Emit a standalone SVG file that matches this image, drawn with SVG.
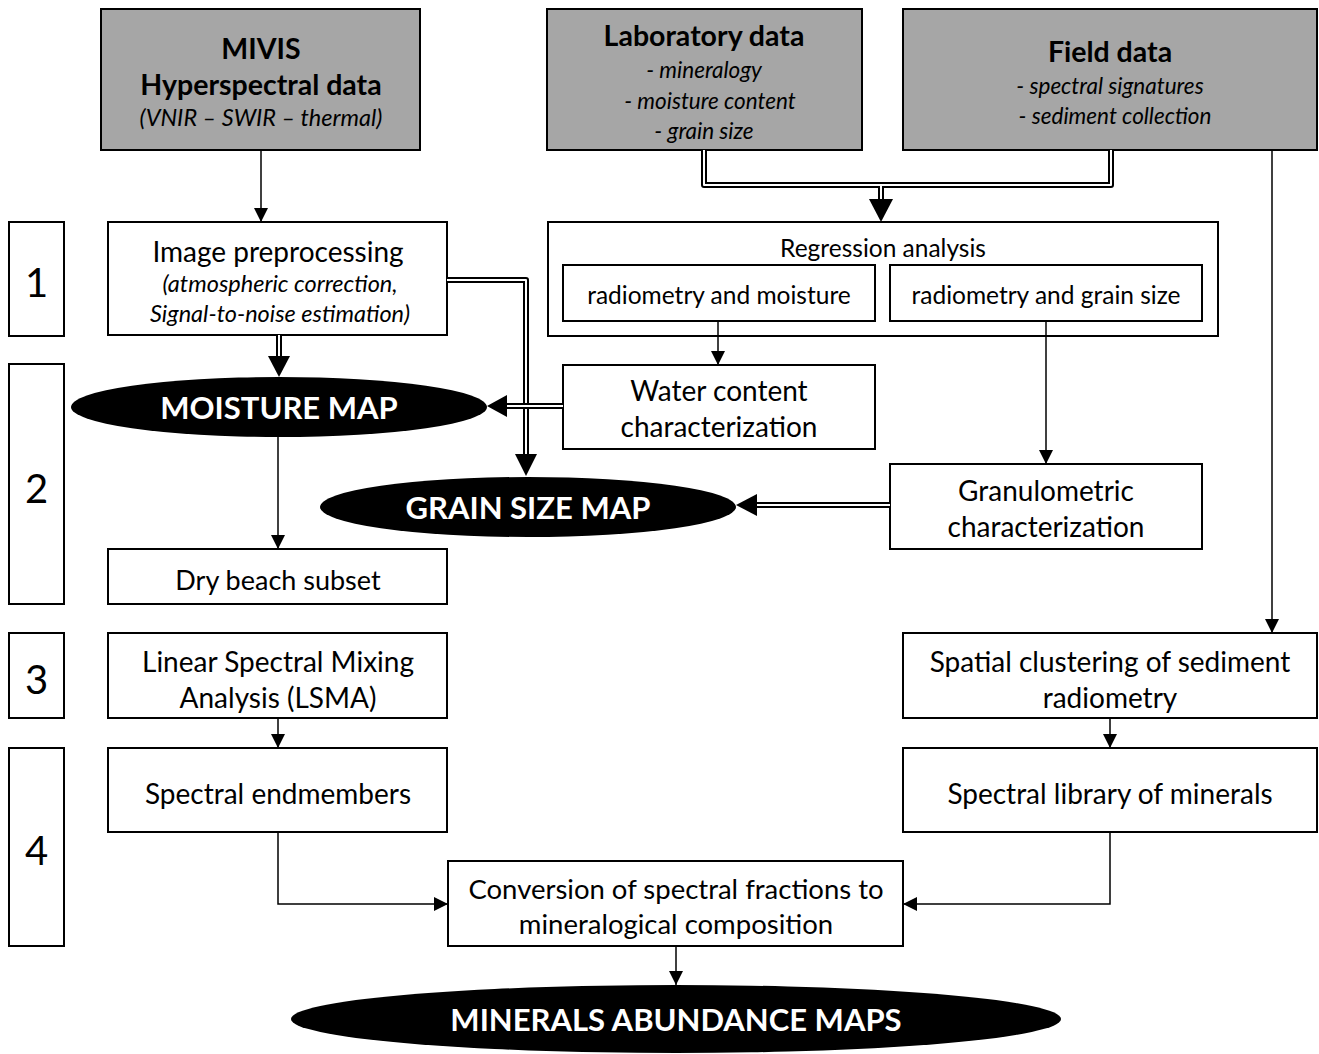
<svg xmlns="http://www.w3.org/2000/svg" width="1319" height="1054" viewBox="0 0 1319 1054">
<style>
.box{fill:#fff;stroke:#000;stroke-width:2}
.src{fill:#a6a6a6;stroke:#000;stroke-width:2}
.ell{fill:#000}
text{font-family:Lato,"Open Sans","Liberation Sans",sans-serif;fill:#000;text-anchor:middle;dominant-baseline:central}
.t{font-size:28px}
.s{font-size:23.5px;font-style:italic}
.si{font-size:22.5px;font-style:italic}
.b{font-size:28.5px;font-weight:bold}
.w{font-size:31px;font-weight:bold;fill:#fff}
.n{font-size:40px}
.r{font-size:24.5px}
.ln{fill:none;stroke:#000;stroke-width:1.5}
.dbo{fill:none;stroke:#000;stroke-width:6;stroke-linejoin:round}
.dbi{fill:none;stroke:#fff;stroke-width:2;stroke-linejoin:round}
</style>
<defs>
<marker id="a" markerUnits="userSpaceOnUse" markerWidth="14" markerHeight="14" refX="14" refY="7" orient="auto">
<path d="M0,0 L14,7 L0,14 z" fill="#000"/>
</marker>
</defs>

<g id="step1"><rect class="box" x="9" y="222" width="55" height="114"/><text class="n" x="36.5" y="282">1</text></g>
<g id="step2"><rect class="box" x="9" y="364" width="55" height="240"/><text class="n" x="36.5" y="488">2</text></g>
<g id="step3"><rect class="box" x="9" y="633" width="55" height="85"/><text class="n" x="36.5" y="679">3</text></g>
<g id="step4"><rect class="box" x="9" y="748" width="55" height="198"/><text class="n" x="36.5" y="850">4</text></g>

<g id="mivis"><rect class="src" x="101" y="9" width="319" height="141"/>
<text class="b" x="261" y="48">MIVIS</text>
<text class="b" x="261" y="84">Hyperspectral data</text>
<text class="s" x="261" y="117">(VNIR – SWIR – thermal)</text></g>

<g id="lab"><rect class="src" x="547" y="9" width="315" height="141"/>
<text class="b" x="704" y="35">Laboratory data</text>
<text class="si" x="704" y="69">- mineralogy</text>
<text class="si" x="710" y="100">- moisture  content</text>
<text class="si" x="704" y="130">- grain size</text></g>

<g id="field"><rect class="src" x="903" y="9" width="414" height="141"/>
<text class="b" x="1110" y="51">Field data</text>
<text class="si" x="1110" y="85">- spectral  signatures</text>
<text class="si" x="1115" y="115">- sediment collection</text></g>

<g id="preproc"><rect class="box" x="108" y="222" width="339" height="113"/>
<text class="t" x="278" y="251">Image preprocessing</text>
<text class="s" x="280" y="283">(atmospheric correction,</text>
<text class="s" x="280" y="313">Signal-to-noise estimation)</text></g>

<g id="regression"><rect class="box" x="548" y="222" width="670" height="114"/>
<text class="r" x="883" y="247">Regression analysis</text></g>
<g id="radmoist"><rect class="box" x="563" y="265" width="312" height="56"/>
<text class="r" x="719" y="294">radiometry and moisture</text></g>
<g id="radgrain"><rect class="box" x="890" y="265" width="312" height="56"/>
<text class="r" x="1046" y="294">radiometry and grain size</text></g>

<g id="water"><rect class="box" x="563" y="365" width="312" height="84"/>
<text class="t" x="719" y="390">Water content</text>
<text class="t" x="719" y="426">characterization</text></g>

<g id="moisturemap"><ellipse class="ell" cx="279" cy="407" rx="208" ry="30"/>
<text class="w" x="279" y="407">MOISTURE MAP</text></g>

<g id="grainmap"><ellipse class="ell" cx="528" cy="507" rx="208" ry="30"/>
<text class="w" x="528" y="507">GRAIN SIZE MAP</text></g>

<g id="granulo"><rect class="box" x="890" y="464" width="312" height="85"/>
<text class="t" x="1046" y="490">Granulometric</text>
<text class="t" x="1046" y="526">characterization</text></g>

<g id="drybeach"><rect class="box" x="108" y="549" width="339" height="55"/>
<text class="t" x="278" y="579" style="font-size:27px">Dry beach subset</text></g>

<g id="lsma"><rect class="box" x="108" y="633" width="339" height="85"/>
<text class="t" x="278" y="661">Linear Spectral Mixing</text>
<text class="t" x="278" y="697">Analysis (LSMA)</text></g>

<g id="clustering"><rect class="box" x="903" y="633" width="414" height="85"/>
<text class="t" x="1110" y="661">Spatial clustering of sediment</text>
<text class="t" x="1110" y="697">radiometry</text></g>

<g id="endmembers"><rect class="box" x="108" y="748" width="339" height="84"/>
<text class="t" x="278" y="793">Spectral endmembers</text></g>

<g id="library"><rect class="box" x="903" y="748" width="414" height="84"/>
<text class="t" x="1110" y="793">Spectral library of minerals</text></g>

<g id="conversion"><rect class="box" x="448" y="861" width="455" height="85"/>
<text class="t" x="676" y="888" style="font-size:27.5px">Conversion of spectral fractions to</text>
<text class="t" x="676" y="923" style="font-size:27.5px">mineralogical composition</text></g>

<g id="minerals"><ellipse class="ell" cx="676" cy="1019" rx="385" ry="34"/>
<text class="w" x="676" y="1019">MINERALS ABUNDANCE MAPS</text></g>

<g id="connectors">
<path class="ln" d="M261,150 V222" marker-end="url(#a)"/>
<path class="ln" d="M1272,150 V633" marker-end="url(#a)"/>
<path class="ln" d="M718,321 V365" marker-end="url(#a)"/>
<path class="ln" d="M1046,321 V464" marker-end="url(#a)"/>
<path class="ln" d="M278,437 V549" marker-end="url(#a)"/>
<path class="ln" d="M278,718 V748" marker-end="url(#a)"/>
<path class="ln" d="M1110,718 V748" marker-end="url(#a)"/>
<path class="ln" d="M278,832 V904 H448" marker-end="url(#a)"/>
<path class="ln" d="M1110,832 V904 H903" marker-end="url(#a)"/>
<path class="ln" d="M676,946 V985" marker-end="url(#a)"/>

<path class="dbo" d="M704,150 V185 H1111 V150"/>
<path class="dbo" d="M881,185 V200"/>
<path class="dbi" d="M704,150 V185 H1111 V150"/>
<path class="dbi" d="M881,186 V201"/>
<polygon points="869,199 893,199 881,222" fill="#000"/>

<path class="dbo" d="M279,335 V357"/>
<path class="dbi" d="M279,335 V358"/>
<polygon points="268,356 290,356 279,377" fill="#000"/>

<path class="dbo" d="M447,280 H526 V455"/>
<path class="dbi" d="M447,280 H526 V456"/>
<polygon points="515,454 537,454 526,476" fill="#000"/>

<path class="dbo" d="M563,406 H506"/>
<path class="dbi" d="M563,406 H505"/>
<polygon points="507,395 507,417 487,406" fill="#000"/>

<path class="dbo" d="M890,505 H756"/>
<path class="dbi" d="M890,505 H755"/>
<polygon points="757,494 757,516 736,505" fill="#000"/>
</g>
</svg>
